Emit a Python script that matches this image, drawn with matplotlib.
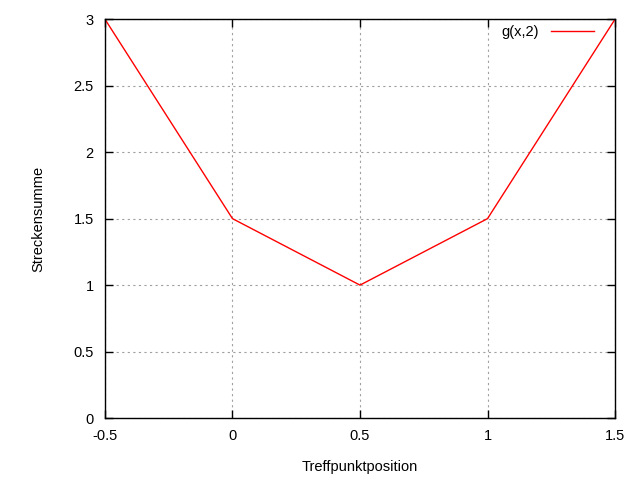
import matplotlib
matplotlib.use("Agg")
import matplotlib.pyplot as plt

# data
x_vals = [-0.5, -0.25, 0.0, 0.25, 0.5, 0.75, 1.0, 1.25, 1.5]
g_vals = [3.0, 2.25, 1.5, 1.25, 1.0, 1.25, 1.5, 2.25, 3.0]

x_ticks = [-0.5, 0, 0.5, 1, 1.5]
x_labels = ["-0.5", "0", "0.5", "1", "1.5"]
y_ticks = [0, 0.5, 1, 1.5, 2, 2.5, 3]
y_labels = ["0", "0.5", "1", "1.5", "2", "2.5", "3"]

plt.rcParams["font.family"] = ["Liberation Sans", "DejaVu Sans"]

fig = plt.figure(figsize=(6.4, 4.8), dpi=100)
ax = fig.add_axes([0.164, 0.129, 0.797, 0.831])

ax.plot(x_vals, g_vals, color="red", linewidth=1, label="g(x,2)")

ax.set_xlim(-0.5, 1.5)
ax.set_ylim(0, 3)
ax.set_xticks(x_ticks)
ax.set_xticklabels(x_labels)
ax.set_yticks(y_ticks)
ax.set_yticklabels(y_labels)

ax.tick_params(direction="in", top=True, right=True, length=6, width=1,
               labelsize=10.5, pad=8)
ax.grid(True, color="#a0a0a0", linestyle=(0, (2, 3)), linewidth=0.8)
for s in ax.spines.values():
    s.set_linewidth(1)

ax.set_xlabel("Treffpunktposition", fontsize=10.5, labelpad=12)
ax.set_ylabel("Streckensumme", fontsize=10.5, labelpad=20)

ax.legend(loc="upper right", bbox_to_anchor=(0.971, 1.0), frameon=False,
          markerfirst=False, fontsize=10.5, handlelength=3,
          borderaxespad=0)

fig.savefig("out.png", dpi=100)
